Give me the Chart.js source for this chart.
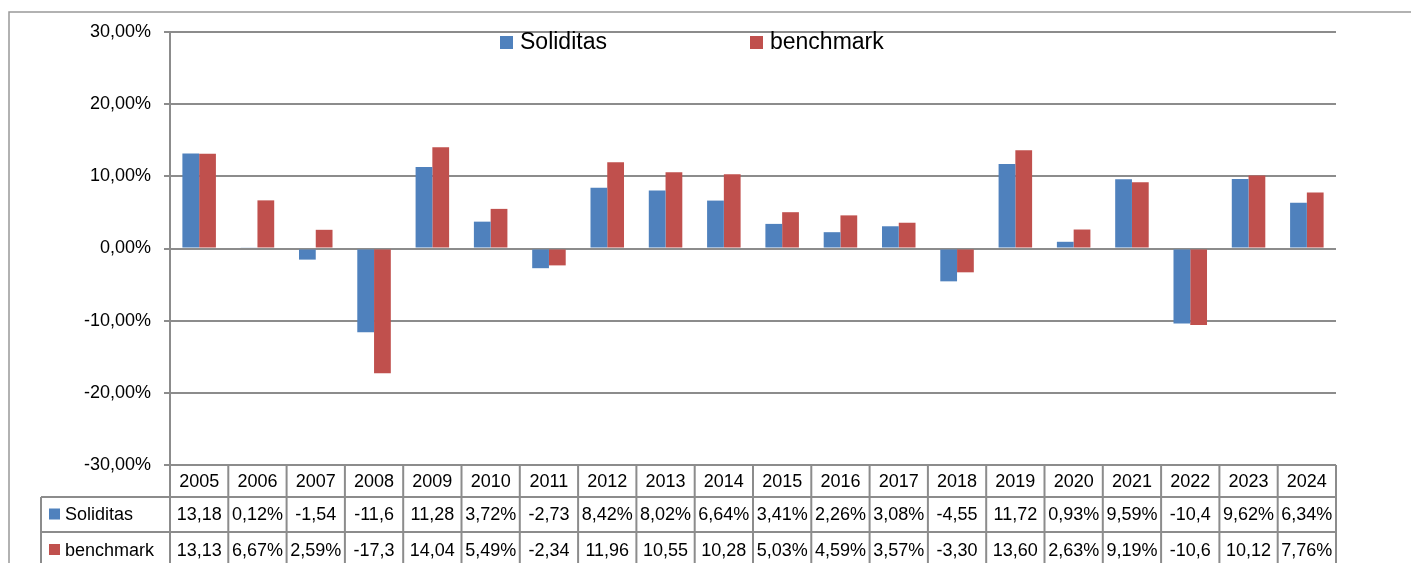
<!DOCTYPE html>
<html lang="en">
<head>
<meta charset="UTF-8">
<title>Soliditas vs benchmark</title>
<script src="https://cdn.jsdelivr.net/npm/chart.js"></script>
<style>
    body { margin: 0; background: #fff; }
    #wrap { position: relative; width: 1411px; height: 563px; }
</style>
</head>
<body>
<div id="wrap">
    <canvas id="myChart" width="1411" height="563"></canvas>
</div>
<script>
    // data
    const years = ['2005','2006','2007','2008','2009','2010','2011','2012','2013','2014',
                   '2015','2016','2017','2018','2019','2020','2021','2022','2023','2024'];
    const soliditas = [13.18, 0.12, -1.54, -11.6, 11.28, 3.72, -2.73, 8.42, 8.02, 6.64,
                       3.41, 2.26, 3.08, -4.55, 11.72, 0.93, 9.59, -10.4, 9.62, 6.34];
    const benchmark = [13.13, 6.67, 2.59, -17.3, 14.04, 5.49, -2.34, 11.96, 10.55, 10.28,
                       5.03, 4.59, 3.57, -3.30, 13.60, 2.63, 9.19, -10.6, 10.12, 7.76];
    // texts as they appear in the table cells (Excel cuts the long ones)
    const soliditasText = ['13,18','0,12%','-1,54','-11,6','11,28','3,72%','-2,73','8,42%','8,02%','6,64%',
                           '3,41%','2,26%','3,08%','-4,55','11,72','0,93%','9,59%','-10,4','9,62%','6,34%'];
    const benchmarkText = ['13,13','6,67%','2,59%','-17,3','14,04','5,49%','-2,34','11,96','10,55','10,28',
                           '5,03%','4,59%','3,57%','-3,30','13,60','2,63%','9,19%','-10,6','10,12','7,76%'];
    const yTicks = [-30, -20, -10, 0, 10, 20, 30];

    const BLUE = '#4F81BD';
    const RED = '#C0504D';
    const GRID = '#8c8c8c';
    const FONT = '"Liberation Sans", Arial, sans-serif';

    // draws outer frame, top legend and the data table
    const tablePlugin = {
        id: 'tablePlugin',
        afterDraw(chart) {
            const ctx = chart.ctx;
            const area = chart.chartArea;
            const x = chart.scales.x;
            const half = (x.getPixelForValue(1) - x.getPixelForValue(0)) / 2;
            const row1 = area.bottom, row2 = area.bottom + 32, row3 = area.bottom + 67, row4 = area.bottom + 103;
            const keyLeft = 41;

            ctx.save();
            // outer frame
            ctx.strokeStyle = '#999';
            ctx.lineWidth = 1.5;
            ctx.beginPath();
            ctx.moveTo(9, chart.height + 2);
            ctx.lineTo(9, 12);
            ctx.lineTo(chart.width + 2, 12);
            ctx.stroke();

            // top legend
            const sets = chart.data.datasets;
            const legendX = [500, 750];
            ctx.font = '23px ' + FONT;
            ctx.textBaseline = 'middle';
            ctx.textAlign = 'left';
            sets.forEach((ds, i) => {
                ctx.fillStyle = ds.backgroundColor;
                ctx.fillRect(legendX[i], 36, 13, 13);
                ctx.fillStyle = '#000';
                ctx.fillText(ds.label, legendX[i] + 20, 43);
            });

            // table grid
            ctx.strokeStyle = GRID;
            ctx.lineWidth = 2;
            ctx.beginPath();
            [row2, row3].forEach(y => { ctx.moveTo(keyLeft, y); ctx.lineTo(area.right, y); });
            ctx.moveTo(keyLeft, row2); ctx.lineTo(keyLeft, row4);
            years.forEach((yr, i) => {
                const px = x.getPixelForValue(i) - half;
                ctx.moveTo(px, row1); ctx.lineTo(px, row4);
            });
            ctx.moveTo(area.right, row1); ctx.lineTo(area.right, row4);
            ctx.stroke();

            // table texts
            ctx.font = '18px ' + FONT;
            ctx.fillStyle = '#000';
            ctx.textAlign = 'center';
            const texts = [soliditasText, benchmarkText];
            years.forEach((yr, i) => {
                const px = x.getPixelForValue(i);
                ctx.fillText(yr, px, (row1 + row2) / 2 + 1);
                ctx.fillText(texts[0][i], px, (row2 + row3) / 2 + 1);
                ctx.fillText(texts[1][i], px, (row3 + row4) / 2 + 1);
            });
            // row keys
            ctx.textAlign = 'left';
            [[row2, row3], [row3, row4]].forEach((r, i) => {
                const cy = (r[0] + r[1]) / 2;
                ctx.fillStyle = sets[i].backgroundColor;
                ctx.fillRect(keyLeft + 8, cy - 6, 11, 11);
                ctx.fillStyle = '#000';
                ctx.fillText(sets[i].label, keyLeft + 24, cy + 1);
            });
            ctx.restore();
        }
    };

    new Chart(document.getElementById('myChart'), {
        type: 'bar',
        data: {
            labels: years,
            datasets: [{
                label: 'Soliditas',
                data: soliditas,
                backgroundColor: BLUE,
                borderWidth: 0
            }, {
                label: 'benchmark',
                data: benchmark,
                backgroundColor: RED,
                borderWidth: 0
            }]
        },
        options: {
            responsive: false,
            animation: false,
            layout: { padding: { left: 0, top: 32, right: 75, bottom: 98 } },
            datasets: { bar: { categoryPercentage: 0.575, barPercentage: 1 } },
            plugins: {
                legend: { display: false },
                tooltip: { enabled: false }
            },
            scales: {
                x: { display: false },
                y: {
                    min: -30,
                    max: 30,
                    afterFit(scale) { scale.width = 170; },
                    afterBuildTicks(scale) { scale.ticks = yTicks.map(v => ({ value: v })); },
                    ticks: {
                        padding: 13,
                        color: '#000',
                        font: { family: FONT, size: 18 },
                        callback: v => v.toFixed(2).replace('.', ',') + '%'
                    },
                    grid: { color: GRID, lineWidth: 2, tickLength: 6 },
                    border: { color: GRID, width: 2 }
                }
            }
        },
        plugins: [tablePlugin]
    });
</script>
</body>
</html>
